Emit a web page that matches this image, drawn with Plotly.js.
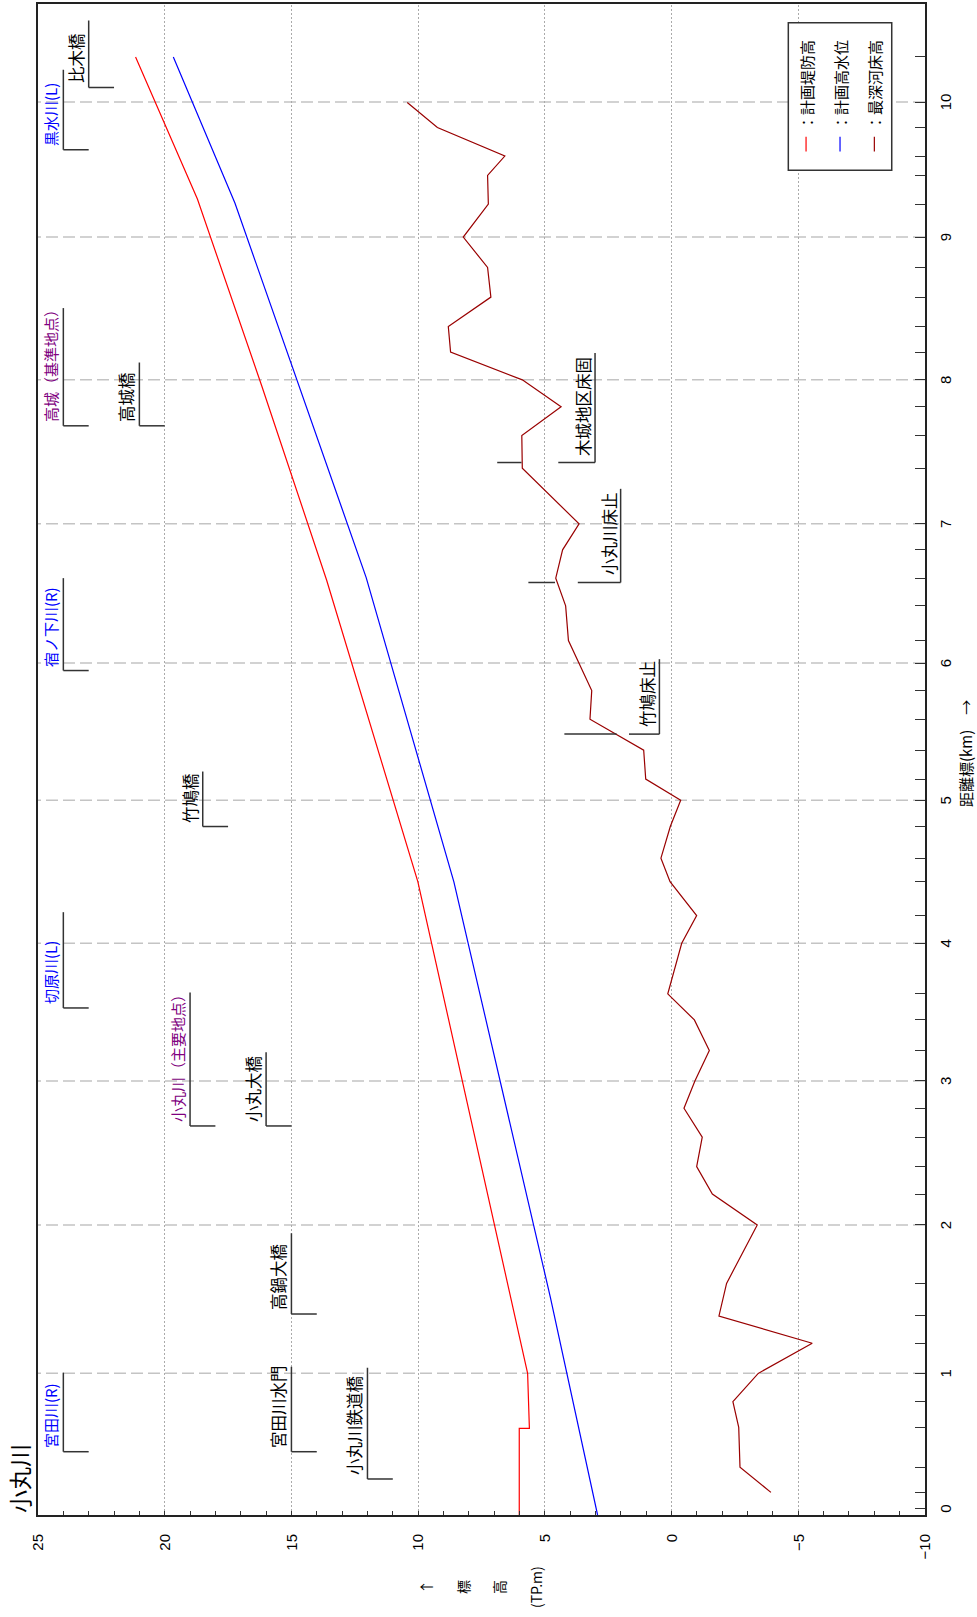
<!DOCTYPE html>
<html><head><meta charset="utf-8">
<script src="https://cdn.plot.ly/plotly-3.0.1.min.js"></script>
<style>
html,body{margin:0;padding:0;width:977px;height:1617px;overflow:hidden;background:#fff;}
#wrap{position:absolute;left:0;top:0;width:1617px;height:977px;transform-origin:0 0;transform:translate(0px,1617px) rotate(-90deg);}
</style></head><body><div id="wrap"></div>
<script>
// ---- Data ----
const kmTickLabels = ['0','1','2','3','4','5','6','7','8','9','10'];
const kmTickPos = [0, 0.961, 2.016, 3.040, 4.019, 5.036, 6.011, 7.001, 8.025, 9.040, 10.0];

// 最深河床高 (riverbed)
const bedKm = [0.115,0.293,0.577,0.760,0.961,1.175,1.369,1.601,2.016,2.236,2.431,2.640,2.846,3.040,3.256,3.474,3.659,4.019,4.216,4.457,4.624,4.849,5.036,5.186,5.392,5.612,5.816,6.011,6.171,6.418,6.615,6.816,7.001,7.397,7.629,7.833,8.025,8.222,8.404,8.613,8.824,9.040,9.274,9.478,9.616,9.819,9.997];
const bedElev = [-3.92,-2.70,-2.65,-2.42,-3.42,-5.55,-1.87,-2.17,-3.38,-1.61,-0.99,-1.21,-0.49,-0.92,-1.49,-0.90,0.15,-0.40,-0.99,0.06,0.42,0.05,-0.36,1.02,1.10,3.22,3.15,3.64,4.07,4.18,4.57,4.30,3.65,5.89,5.91,4.36,5.89,8.72,8.81,7.13,7.26,8.22,7.23,7.26,6.58,9.24,10.43];
const extraSectionKm = [10.324];

// 計画堤防高 (planned levee height)
const leveeKm = [-0.046,0.570,0.570,0.961,4.455,6.600,7.976,9.310,10.320];
const leveeElev = [6.01,6.01,5.61,5.68,10.01,13.61,16.16,18.71,21.15];

// 計画高水位 (planned high water level)
const hwlKm = [-0.046,1.500,4.455,6.619,9.282,10.320];
const hwlElev = [2.92,4.78,8.59,12.05,17.23,19.66];

const seriesNames = ['：計画堤防高','：計画高水位','：最深河床高'];

// Landmarks (tributaries, points, bridges)
const lmNames  = ['宮田川(R)','宮田川水門','小丸川鉄道橋','高鍋大橋','小丸大橋','小丸川（主要地点）','切原川(L)','竹鳩橋','宿ノ下川(R)','高城（基準地点）','高城橋','黒水川(L)','比木橋'];
const lmType   = ['trib','bridge','bridge','bridge','bridge','point','trib','bridge','trib','point','bridge','trib','bridge'];
const lmKm     = [0.404,0.404,0.210,1.383,2.720,2.720,3.559,4.849,5.958,7.698,7.698,9.661,10.104];
const lmEndKm  = [0.966,1.008,1.001,1.957,3.244,3.669,4.240,5.240,6.615,8.535,8.148,10.230,10.580];
const lmLevel  = [24,15,12,15,16,19,24,18.5,24,24,21,24,23];

// Structures (bed stabilisers)
const stNames    = ['竹鳩床止','小丸川床止','木城地区床固'];
const stKm       = [5.506,6.584,7.437];
const stEndKm    = [6.039,7.250,8.215];
const stLevel    = [0.48,2.01,3.02];
const stBracket  = [1.68,3.70,4.47];
const stTop      = [4.23,5.65,6.88];
const stBottom   = [2.17,4.60,5.92];

// ---- Styles ----
const CJK = '"Noto Sans CJK JP", "Noto Sans", sans-serif';
const NUM = '"Liberation Sans", Arial, "Noto Sans CJK JP", sans-serif';
const lmStyle = {trib:{color:'#0000ff',size:15}, point:{color:'#800080',size:15}, bridge:{color:'#000000',size:16.5}};
const LINEC = '#333333';

const traces = [
  {x: leveeKm, y: leveeElev, mode:'lines', name: seriesNames[0], line:{color:'#ff0000', width:1.2}},
  {x: hwlKm, y: hwlElev, mode:'lines', name: seriesNames[1], line:{color:'#0000ff', width:1.2}},
  {x: bedKm, y: bedElev, mode:'lines', name: seriesNames[2], line:{color:'#990000', width:1.2}}
];

const shapes = [];
const annotations = [];
function seg(x0,y0,x1,y1,color,width,dash,layer){
  shapes.push({type:'line', xref:'x', yref:'y', x0:x0, y0:y0, x1:x1, y1:y1, layer: layer||'above',
    line:{color:color, width:width, dash: dash||'solid'}});
}
// km-post grid lines (dashed), except km 0
for (let i = 1; i < kmTickPos.length; i++) {
  seg(kmTickPos[i], -10, kmTickPos[i], 25, '#c4c4c4', 1.5, '12px,5px', 'below');
}
// landmarks
for (let i = 0; i < lmNames.length; i++) {
  const st = lmStyle[lmType[i]];
  seg(lmKm[i], lmLevel[i], lmKm[i], lmLevel[i]-1, LINEC, 1.5);
  seg(lmKm[i], lmLevel[i], lmEndKm[i], lmLevel[i], LINEC, 1.5);
  annotations.push({x: lmKm[i], y: lmLevel[i], xref:'x', yref:'y', text: lmNames[i], showarrow:false,
    xanchor:'left', yanchor:'middle', xshift:2, yshift:13, font:{family:CJK, size:st.size, color:st.color}});
}
// structures
for (let i = 0; i < stNames.length; i++) {
  seg(stKm[i], stBracket[i], stKm[i], stLevel[i], LINEC, 1.5);
  seg(stKm[i], stLevel[i], stEndKm[i], stLevel[i], LINEC, 1.5);
  seg(stKm[i], stTop[i], stKm[i], stBottom[i], LINEC, 1.5);
  annotations.push({x: stKm[i], y: stLevel[i], xref:'x', yref:'y', text: stNames[i], showarrow:false,
    xanchor:'left', yanchor:'middle', xshift:5, yshift:12, font:{family:CJK, size:16.5, color:'#000'}});
}
// y-axis title (stacked)
const yTitleParts = ['↑','標','高','(TP.m)'];
const yTitleElev = [9.70, 8.23, 6.82, 5.35];
for (let i = 0; i < yTitleParts.length; i++) {
  annotations.push({x:-0.0477, y: yTitleElev[i], xref:'paper', yref:'y', text: yTitleParts[i], showarrow:false,
    xanchor:'center', yanchor:'middle', font:{family:CJK, size:14, color:'#000'}});
}
// x-axis title
annotations.push({x:0.504, y:-0.0451, xref:'paper', yref:'paper', text:'距離標(km)　→', showarrow:false,
  xanchor:'center', yanchor:'middle', font:{family:CJK, size:15, color:'#000'}});

// manual legend
const legColors = ['#ff0000','#0000ff','#990000'];
const legY = [0.1341, 0.0958, 0.0571];
shapes.push({type:'rect', xref:'paper', yref:'paper', x0:0.890, x1:0.9876, y0:0.0375, y1:0.1541,
  line:{color:'#333', width:1.5}, fillcolor:'#ffffff', layer:'above'});
for (let i = 0; i < 3; i++) {
  shapes.push({type:'line', xref:'paper', yref:'paper', x0:0.9024, x1:0.9122, y0:legY[i], y1:legY[i],
    line:{color:legColors[i], width:1.2}});
  annotations.push({x:0.9150, y:legY[i], xref:'paper', yref:'paper', text: seriesNames[i], showarrow:false,
    xanchor:'left', yanchor:'middle', font:{family:CJK, size:15, color:'#000'}});
}

const layout = {
  width:1617, height:977,
  margin:{l:102, r:4, t:38, b:52},
  paper_bgcolor:'#ffffff', plot_bgcolor:'#ffffff',
  showlegend:false,
  title:{text:'小丸川', x:104/1617, xanchor:'left', xref:'container', y:1-21/977, yanchor:'middle', yref:'container',
    font:{family:CJK, size:23, color:'#000'}},
  xaxis:{range:[-0.046,10.697], tickmode:'array', tickvals:kmTickPos, ticktext:kmTickLabels,
    ticks:'inside', ticklen:10, tickwidth:1, tickcolor:LINEC,
    showgrid:false, zeroline:false, showline:true, mirror:true, linecolor:'#222', linewidth:2,
    tickfont:{family:NUM, size:15, color:'#000'}, ticklabelstandoff:6,
    minor:{tickmode:'array', tickvals: bedKm.concat(extraSectionKm), ticks:'inside', ticklen:10, tickwidth:1, tickcolor:LINEC, showgrid:false}},
  yaxis:{range:[-10,25], tick0:0, dtick:5, ticks:'inside', ticklen:4, tickwidth:1, tickcolor:LINEC,
    showgrid:true, gridcolor:'#aaaaaa', gridwidth:1, griddash:'2px,2px',
    zeroline:false, showline:true, mirror:true, linecolor:'#222', linewidth:2,
    tickfont:{family:NUM, size:15, color:'#000'}, ticklabelstandoff:14,
    minor:{dtick:1, ticks:'inside', ticklen:4, tickwidth:1, tickcolor:LINEC, showgrid:false}},
  shapes: shapes,
  annotations: annotations
};
Plotly.newPlot('wrap', traces, layout, {displayModeBar:false, staticPlot:true});
</script></body></html>
